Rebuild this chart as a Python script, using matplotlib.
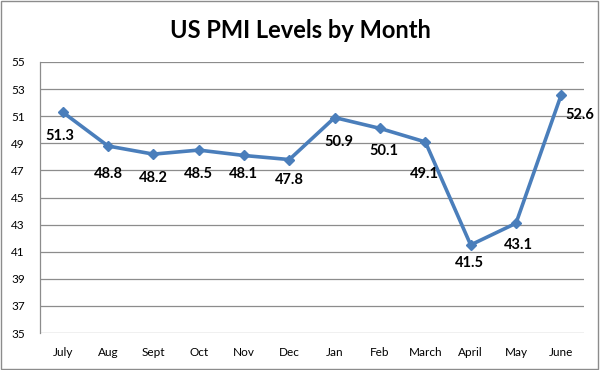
import matplotlib
matplotlib.use("Agg")
import matplotlib.pyplot as plt
from matplotlib.patches import Rectangle

months = ["July", "Aug", "Sept", "Oct", "Nov", "Dec", "Jan", "Feb", "March", "April", "May", "June"]
pmi = [51.3, 48.8, 48.2, 48.5, 48.1, 47.8, 50.9, 50.1, 49.1, 41.5, 43.1, 52.6]
y_ticks = list(range(35, 56, 2))

# label nudges in pixels (dx, dy), as placed in the original chart
label_offsets = [(-3, -24), (0, -28), (0, -24), (0, -24), (-1, -19), (0, -20),
                 (4, -24), (4, -23), (-1, -32), (-1, -18), (2, -22), (4, -20)]

plt.rcParams["font.family"] = ["Lato", "DejaVu Sans"]

fig = plt.figure(figsize=(6, 3.7), dpi=100)
ax = fig.add_axes([40 / 600, 1 - 333 / 370, 544 / 600, 271 / 370])

x = list(range(len(months)))
ax.plot(x, pmi, color="#4a7ebb", linewidth=2.6, marker="D", markersize=5.5,
        markerfacecolor="#4a7ebb", markeredgecolor="#4a7ebb", zorder=3)

for i, v in enumerate(pmi):
    ha = "left" if i == len(pmi) - 1 else "center"
    ax.annotate(f"{v:.1f}", (i, v), xytext=label_offsets[i], textcoords="offset pixels",
                ha=ha, va="center", fontsize=10.5, fontweight="bold", color="black",
                annotation_clip=False)

ax.set_xlim(-0.5, len(months) - 0.5)
ax.set_ylim(35, 55)
ax.set_yticks(y_ticks)
ax.set_xticks(x)
ax.set_xticklabels(months)
ax.tick_params(axis="both", labelsize=8.5, length=0, colors="black")
ax.tick_params(axis="x", pad=10)
ax.tick_params(axis="y", pad=11)
ax.grid(axis="y", color="#8c8c8c", linewidth=0.9)
ax.set_axisbelow(True)

for side in ["top", "right", "bottom"]:
    ax.spines[side].set_visible(False)
ax.spines["left"].set_color("#8c8c8c")
ax.spines["left"].set_linewidth(0.9)

fig.text(0.5, 1 - 30 / 370, "US PMI Levels by Month", ha="center", va="center",
         fontsize=17, fontweight="bold")

fig.patches.append(Rectangle((0.002, 0.003), 0.995, 0.994, transform=fig.transFigure,
                             fill=False, edgecolor="#8c8c8c", linewidth=1))

fig.savefig("out.png", dpi=100)
